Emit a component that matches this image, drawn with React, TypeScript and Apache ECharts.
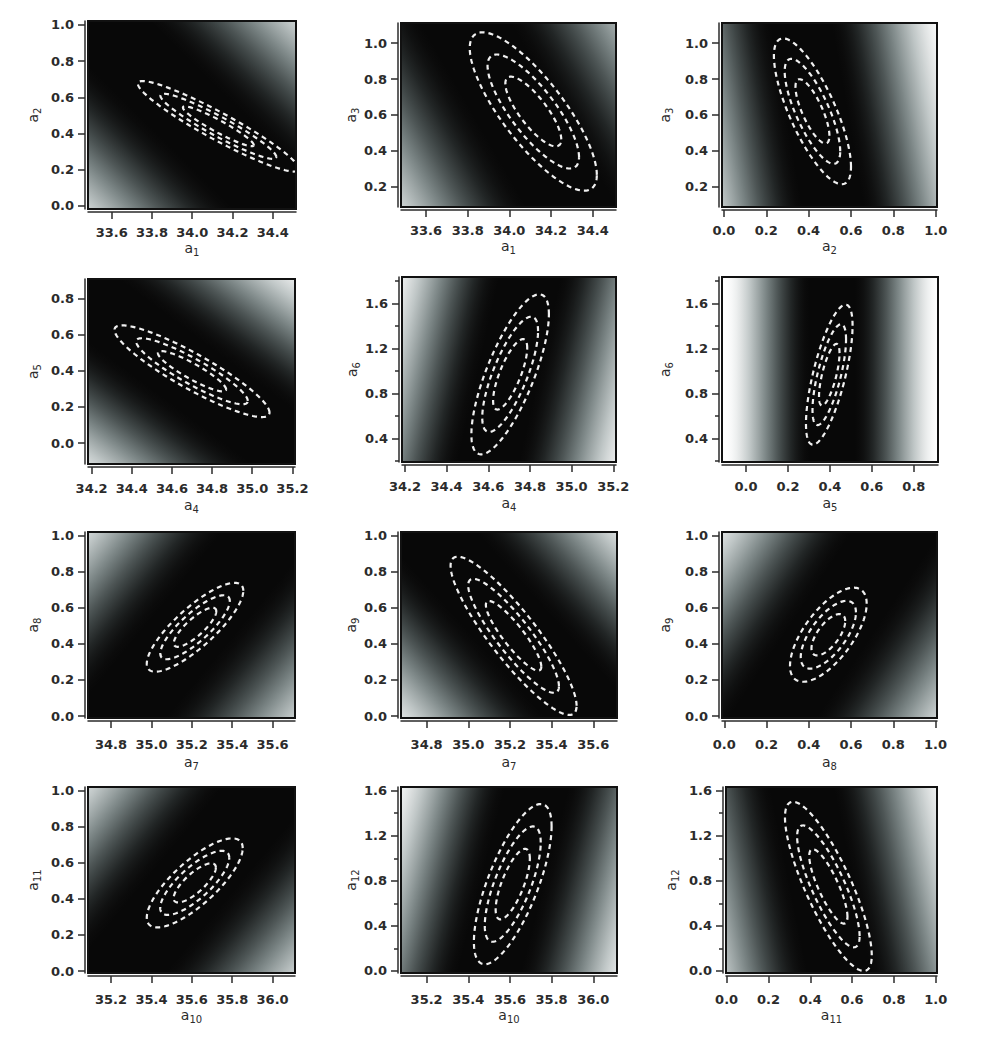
import React, { useEffect, useRef } from 'react';
import * as echarts from 'echarts';

// ---------- data ----------
const xParamIndex = ['1', '1', '2', '4', '4', '5', '7', '7', '8', '10', '10', '11'];
const yParamIndex = ['2', '3', '3', '5', '6', '6', '8', '9', '9', '11', '12', '12'];

const xRanges = [
  [33.482, 34.516], [33.48, 34.512], [-0.009, 1.006],
  [34.182, 35.213], [34.186, 35.213], [-0.114, 0.915],
  [34.686, 35.711], [34.677, 35.714], [-0.011, 1.007],
  [35.086, 36.111], [35.077, 36.114], [-0.003, 1.006],
];
const yRanges = [
  [-0.017, 1.022], [0.086, 1.113], [0.086, 1.113],
  [-0.116, 0.909], [0.193, 1.837], [0.193, 1.837],
  [-0.011, 1.021], [-0.011, 1.021], [-0.011, 1.021],
  [-0.011, 1.021], [-0.018, 1.633], [-0.018, 1.633],
];

const ticksA1 = [33.6, 33.8, 34.0, 34.2, 34.4];
const ticksA4 = [34.2, 34.4, 34.6, 34.8, 35.0, 35.2];
const ticksA7 = [34.8, 35.0, 35.2, 35.4, 35.6];
const ticksA10 = [35.2, 35.4, 35.6, 35.8, 36.0];
const ticksUnit = [0.0, 0.2, 0.4, 0.6, 0.8, 1.0];
const ticksA5 = [0.0, 0.2, 0.4, 0.6, 0.8];
const xTickValues = [
  ticksA1, ticksA1, ticksUnit,
  ticksA4, ticksA4, ticksA5,
  ticksA7, ticksA7, ticksUnit,
  ticksA10, ticksA10, ticksUnit,
];
const yTickValues = [
  [0.0, 0.2, 0.4, 0.6, 0.8, 1.0], [0.2, 0.4, 0.6, 0.8, 1.0], [0.2, 0.4, 0.6, 0.8, 1.0],
  [0.0, 0.2, 0.4, 0.6, 0.8], [0.4, 0.8, 1.2, 1.6], [0.4, 0.8, 1.2, 1.6],
  [0.0, 0.2, 0.4, 0.6, 0.8, 1.0], [0.0, 0.2, 0.4, 0.6, 0.8, 1.0], [0.0, 0.2, 0.4, 0.6, 0.8, 1.0],
  [0.0, 0.2, 0.4, 0.6, 0.8, 1.0], [0.0, 0.4, 0.8, 1.2, 1.6], [0.0, 0.4, 0.8, 1.2, 1.6],
];
const yMinorTickValues = [
  [], [], [],
  [], [0.2, 0.6, 1.0, 1.4, 1.8], [0.2, 0.6, 1.0, 1.4, 1.8],
  [], [], [],
  [], [0.2, 0.6, 1.0, 1.4], [0.2, 0.6, 1.0, 1.4],
];

// confidence contours: centre, half extents of the outer contour, correlation
const ellipseCenters = [
  [34.13, 0.44], [34.115, 0.619], [0.418, 0.62],
  [34.70, 0.398], [34.705, 0.972], [0.397, 0.969],
  [35.216, 0.4925], [35.2175, 0.445], [0.4925, 0.451],
  [35.6145, 0.489], [35.6135, 0.771], [0.4865, 0.751],
];
const ellipseSpreads = [
  [0.40, 0.25], [0.305, 0.442], [0.182, 0.407],
  [0.386, 0.254], [0.186, 0.711], [0.111, 0.622],
  [0.239, 0.2465], [0.3025, 0.439], [0.1815, 0.261],
  [0.2375, 0.247], [0.1865, 0.711], [0.2075, 0.751],
];
const ellipseCorrelations = [-0.94, -0.8, -0.76, -0.9, 0.75, 0.7, 0.82, -0.885, 0.66, 0.78, 0.72, -0.815];
const contourLevels = [0.44, 0.72, 1.0];

// shaded chi-square valley: a point on the valley floor, a second point along it, a point where it turns white
const valleyCenters = [
  [34.0, 0.5], [34.02, 0.65], [0.44, 0.6],
  [34.70, 0.37], [34.7, 1.01], [0.41, 1.0],
  [35.2, 0.49], [35.18, 0.537], [0.51, 0.487],
  [35.6, 0.49], [35.615, 0.81], [0.45, 0.81],
];
const valleyDirections = [
  [34.52, -0.07], [34.26, 0.165], [0.515, 0.09],
  [35.097, 0.04], [34.8, 1.83], [0.41, 1.83],
  [35.517, 0.92], [35.501, 0.121], [0.771, 0.948],
  [35.917, 0.92], [35.73, 1.635], [0.54, -0.02],
];
const valleyEdges = [
  [34.633, 1.194], [34.799, 1.179], [1.134, 0.6],
  [35.186, 1.095], [35.406, 1.01], [0.93, 1.0],
  [35.877, -0.137], [35.803, 1.166], [1.199, -0.047],
  [36.277, -0.137], [36.345, 0.81], [1.18, 0.81],
];

// ---------- layout ----------
const gridRects = [
  [88, 21, 208, 188], [401, 23, 215, 184], [722, 23, 215, 184],
  [88, 279, 207, 185], [402, 277, 214, 185], [722, 277, 216, 185],
  [88, 532, 207, 186], [401, 532, 216, 186], [722, 532, 215, 186],
  [88, 787, 207, 186], [401, 787, 216, 186], [726, 787, 211, 186],
];
const xLabelMargins = [14, 15, 17, 17];
const xNameGaps = [27, 29, 32, 30];
const yNameGaps = [43, 37, 45, 43, 37, 45, 43, 37, 45, 43, 37, 43];

const FONT = 'DejaVu Sans';
const AXIS_COLOR = '#2b2b2b';

function grayStops() {
  const stops: any[] = [];
  const n = 48;
  for (let i = 0; i <= n; i++) {
    const t = i / n;
    const s = Math.abs(2 * t - 1);
    let u = (s - 0.2) / 0.8;
    u = Math.max(0, Math.min(1, u));
    const f = u * u * (3 - 2 * u);
    const v = Math.round(8 + 247 * f);
    const r = Math.round(v - 10 * Math.sin(Math.PI * f));
    stops.push({ offset: t, color: `rgb(${r},${v},${v})` });
  }
  return stops;
}

const nameRich = {
  a: { fontSize: 14, fontFamily: FONT, color: AXIS_COLOR, lineHeight: 18, verticalAlign: 'middle' },
  s: { fontSize: 10, fontFamily: FONT, color: AXIS_COLOR, lineHeight: 18, verticalAlign: 'bottom' },
};

function buildOption() {
  const grids: any[] = [];
  const xAxes: any[] = [];
  const yAxes: any[] = [];
  const series: any[] = [];
  const stops = grayStops();
  const fmt = (v: number) => Number(v).toFixed(1);

  for (let i = 0; i < 12; i++) {
    const row = Math.floor(i / 3);
    const [l, t, w, h] = gridRects[i];
    grids.push({ left: l, top: t, width: w, height: h, containLabel: false, outerBoundsMode: 'none' });

    xAxes.push({
      gridIndex: i, type: 'value', position: 'bottom', offset: 3,
      min: xRanges[i][0], max: xRanges[i][1],
      axisLine: { show: true, onZero: false, lineStyle: { color: AXIS_COLOR, width: 1.5 } },
      axisTick: { show: true, length: 7, customValues: xTickValues[i], lineStyle: { color: AXIS_COLOR, width: 1.5 } },
      axisLabel: {
        customValues: xTickValues[i], formatter: fmt, margin: xLabelMargins[row],
        fontSize: 13, fontWeight: 'bold', fontFamily: FONT, color: AXIS_COLOR,
      },
      splitLine: { show: false },
      name: `{a|a}{s|${xParamIndex[i]}}`, nameLocation: 'middle', nameGap: xNameGaps[row],
      nameTextStyle: { rich: nameRich },
    });

    const mainY = yAxes.length;
    yAxes.push({
      gridIndex: i, type: 'value', position: 'left', offset: 3,
      min: yRanges[i][0], max: yRanges[i][1],
      axisLine: { show: true, onZero: false, lineStyle: { color: AXIS_COLOR, width: 1.5 } },
      axisTick: { show: true, length: 7, customValues: yTickValues[i], lineStyle: { color: AXIS_COLOR, width: 1.5 } },
      axisLabel: {
        customValues: yTickValues[i], formatter: fmt, margin: 11,
        fontSize: 13, fontWeight: 'bold', fontFamily: FONT, color: AXIS_COLOR,
      },
      splitLine: { show: false },
      name: `{a|a}{s|${yParamIndex[i]}}`, nameLocation: 'middle', nameGap: yNameGaps[i],
      nameTextStyle: { rich: nameRich },
    });
    if (yMinorTickValues[i].length) {
      yAxes.push({
        gridIndex: i, type: 'value', position: 'left', offset: 3,
        min: yRanges[i][0], max: yRanges[i][1],
        axisLine: { show: false, onZero: false },
        axisTick: { show: true, length: 4, customValues: yMinorTickValues[i], lineStyle: { color: AXIS_COLOR, width: 1.5 } },
        axisLabel: { show: false },
        splitLine: { show: false },
      });
    }

    // shaded background
    series.push({
      type: 'custom', xAxisIndex: i, yAxisIndex: mainY, silent: true, clip: true, z: 1,
      data: [[valleyCenters[i][0], valleyCenters[i][1]]],
      renderItem: (params: any, api: any) => {
        const cs = params.coordSys;
        const c = api.coord(valleyCenters[i]);
        const d = api.coord(valleyDirections[i]);
        const e = api.coord(valleyEdges[i]);
        let ux = d[0] - c[0], uy = d[1] - c[1];
        const L = Math.hypot(ux, uy) || 1;
        ux /= L; uy /= L;
        const nx = -uy, ny = ux;
        const wd = (e[0] - c[0]) * nx + (e[1] - c[1]) * ny;
        return {
          type: 'rect',
          shape: { x: cs.x, y: cs.y, width: cs.width, height: cs.height },
          style: {
            fill: {
              type: 'linear', global: true,
              x: c[0] - nx * wd, y: c[1] - ny * wd, x2: c[0] + nx * wd, y2: c[1] + ny * wd,
              colorStops: stops,
            },
          },
        };
      },
    });

    // dashed contours
    series.push({
      type: 'custom', xAxisIndex: i, yAxisIndex: mainY, silent: true, clip: true, z: 3,
      data: contourLevels.map((k) => [ellipseCenters[i][0], ellipseCenters[i][1], k]),
      renderItem: (params: any, api: any) => {
        const cx = api.value(0), cy = api.value(1), k = api.value(2);
        const [sx, sy] = ellipseSpreads[i];
        const r = ellipseCorrelations[i];
        const q = Math.sqrt(1 - r * r);
        const pts: number[][] = [];
        const n = 160;
        for (let j = 0; j <= n; j++) {
          const a = (j / n) * Math.PI * 2;
          const x = cx + k * sx * Math.cos(a);
          const y = cy + k * sy * (r * Math.cos(a) + q * Math.sin(a));
          pts.push(api.coord([x, y]));
        }
        return {
          type: 'polyline',
          shape: { points: pts },
          style: { stroke: '#f0f0f0', lineWidth: 2.2, lineDash: [5, 4], fill: null },
        };
      },
    });

    // frame
    series.push({
      type: 'custom', xAxisIndex: i, yAxisIndex: mainY, silent: true, clip: false, z: 4,
      data: [[ellipseCenters[i][0], ellipseCenters[i][1]]],
      renderItem: (params: any) => {
        const cs = params.coordSys;
        return {
          type: 'rect',
          shape: { x: cs.x, y: cs.y, width: cs.width, height: cs.height },
          style: { fill: null, stroke: '#111', lineWidth: 2 },
        };
      },
    });
  }

  return {
    animation: false,
    backgroundColor: '#ffffff',
    grid: grids,
    xAxis: xAxes,
    yAxis: yAxes,
    series,
  };
}

export default function App() {
  const ref = useRef<HTMLDivElement>(null);
  useEffect(() => {
    if (!ref.current) return;
    const chart = echarts.init(ref.current, undefined, { renderer: 'svg' });
    chart.setOption(buildOption() as any);
    return () => chart.dispose();
  }, []);
  return (
    <div
      ref={ref}
      style={{ position: 'absolute', left: 0, top: 0, width: 981, height: 1037, background: '#fff' }}
    />
  );
}
